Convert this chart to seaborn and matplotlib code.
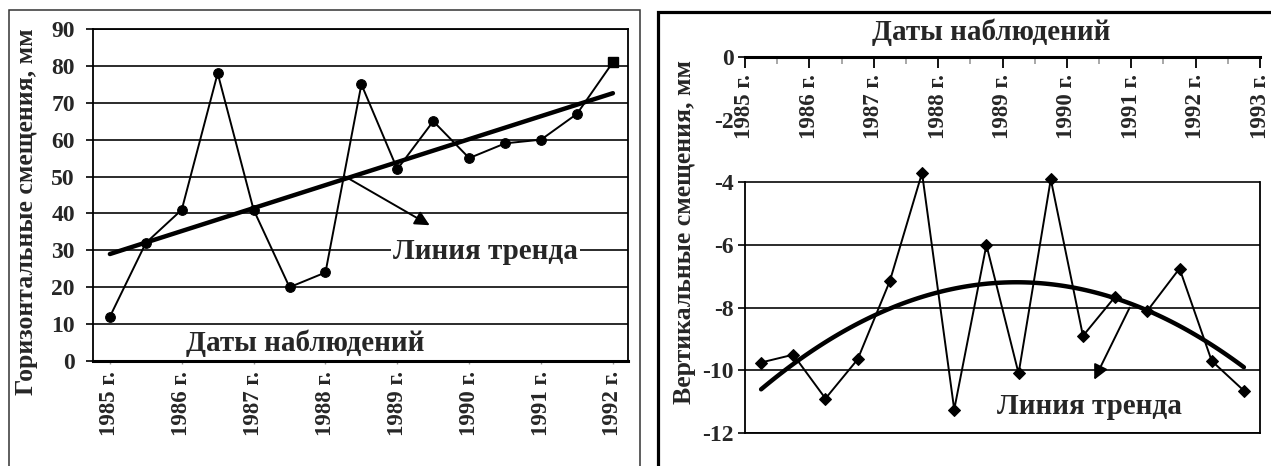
import numpy as np
import matplotlib
matplotlib.use("Agg")
import matplotlib.pyplot as plt
import seaborn as sns
from matplotlib.patches import Rectangle

# Horizontal displacements, two surveys per year (1985-1992)
h_years = ["1985 г.", "1986 г.", "1987 г.", "1988 г.", "1989 г.", "1990 г.", "1991 г.", "1992 г."]
h_values = [12, 32, 41, 78, 41, 20, 24, 75, 52, 65, 55, 59, 60, 67, 81]
h_yticks = [0, 10, 20, 30, 40, 50, 60, 70, 80, 90]

# Vertical displacements, two surveys per year (1985-1993)
v_years = ["1985 г.", "1986 г.", "1987 г.", "1988 г.", "1989 г.", "1990 г.",
           "1991 г.", "1992 г.", "1993 г."]
v_values = [-9.75, -9.5, -10.9, -9.65, -7.15, -3.7, -11.25, -6.0,
            -10.1, -3.9, -8.9, -7.65, -8.1, -6.75, -9.7, -10.65]
v_yticks = [-12, -10, -8, -6, -4, -2, 0]

x_title = "Даты наблюдений"
h_ylabel = "Горизонтальные смещения, мм"
v_ylabel = "Вертикальные смещения, мм"
trend_label = "Линия тренда"

sns.set_theme(style="white")
plt.rcParams["font.family"] = ["Liberation Serif", "DejaVu Serif"]
plt.rcParams["font.weight"] = "bold"

W, H = 1271, 466
fig = plt.figure(figsize=(W / 100, H / 100), dpi=100)
fig.patch.set_facecolor("white")

TICK_FS = 17
XTICK_FS = 16.5
TITLE_FS = 21
YLABEL_FS = 18.5
GRID_KW = dict(color="#1a1a1a", linewidth=1.3)

# ---------------- left panel: horizontal displacements ----------------
axL = fig.add_axes([93 / W, 1 - 361 / H, 535 / W, 332 / H])
xl = np.arange(len(h_values))
sns.lineplot(x=xl, y=h_values, ax=axL, color="black", linewidth=1.4,
             marker="o", markersize=7, markeredgecolor="black", zorder=3)
axL.plot(xl[-1:], h_values[-1:], marker="s", markersize=7.5, color="black",
         linestyle="none", zorder=4)

coef_l = np.polyfit(xl, h_values, 1)
xt_l = xl[[0, -1]]
sns.lineplot(x=xt_l, y=np.polyval(coef_l, xt_l), ax=axL, color="black",
             linewidth=3.2, zorder=3)

axL.set_xlim(-0.47, 14.42)
axL.set_ylim(0, 90)
axL.set_yticks(h_yticks)
axL.set_yticklabels([str(v) for v in h_yticks], fontsize=TICK_FS, fontweight="bold")
axL.set_xticks(xl[::2])
axL.set_xticklabels(h_years, rotation=90, fontsize=XTICK_FS, fontweight="bold", ha="center")
axL.tick_params(axis="y", direction="out", length=5, width=1.2, color="black", pad=8,
                left=True)
axL.tick_params(axis="x", direction="out", length=2, width=1, color="#999999", pad=5,
                bottom=True)
axL.grid(axis="y", **GRID_KW)
axL.grid(axis="x", visible=False)
axL.set_axisbelow(True)
for name, sp in axL.spines.items():
    sp.set_visible(True)
    sp.set_color("black")
    sp.set_linewidth(1.3)
axL.spines["bottom"].set_linewidth(2.2)

axL.set_xlabel(x_title, fontsize=TITLE_FS, fontweight="bold", va="center")
axL.xaxis.set_label_coords(0.397, 0.054)
axL.set_ylabel(h_ylabel, fontsize=YLABEL_FS, fontweight="bold", va="center", ha="center")
axL.yaxis.set_label_coords(-0.125, 0.449)

axL.text(10.45, 29.7, trend_label, fontsize=TITLE_FS, fontweight="bold",
         ha="center", va="center", zorder=5,
         bbox=dict(facecolor="white", edgecolor="none", pad=1.5))
axL.annotate("", xy=(8.9, 36.8), xytext=(6.55, 50),
             arrowprops=dict(arrowstyle="-|>", color="black", lw=1.4,
                             mutation_scale=22, shrinkA=0, shrinkB=0), zorder=5)

# ---------------- right panel: vertical displacements ----------------
axR = fig.add_axes([745 / W, 1 - 433 / H, 515 / W, 376 / H])
xr = np.arange(len(v_values)) + 0.5
sns.lineplot(x=xr, y=v_values, ax=axR, color="black", linewidth=1.4,
             marker="D", markersize=6.5, markeredgecolor="black", zorder=3)

coef_r = np.polyfit(xr, v_values, 2)
xt_r = np.linspace(xr[0], xr[-1], 120)
sns.lineplot(x=xt_r, y=np.polyval(coef_r, xt_r), ax=axR, color="black",
             linewidth=3.2, zorder=3)

axR.set_xlim(0, 16)
axR.set_ylim(-12, 0)
axR.set_yticks(v_yticks)
axR.set_yticklabels([str(v) for v in v_yticks], fontsize=TICK_FS, fontweight="bold")
axR.tick_params(axis="y", direction="out", length=5, width=1.2, color="black", pad=3,
                left=True)

axR.xaxis.tick_top()
axR.set_xticks(np.arange(0, 17, 2))
axR.set_xticks(np.arange(1, 16, 2), minor=True)
axR.set_xticklabels(v_years, rotation=90, fontsize=XTICK_FS, fontweight="bold", ha="center")
axR.tick_params(axis="x", which="both", direction="in", top=True, bottom=False,
                labeltop=True, labelbottom=False)
axR.tick_params(axis="x", which="major", length=8, width=1.3, color="black", pad=-12)
axR.tick_params(axis="x", which="minor", length=5, width=1.2, color="#999999")
for lab in axR.get_xticklabels():
    lab.set_verticalalignment("top")

axR.grid(axis="y", **GRID_KW)
axR.grid(axis="x", visible=False)
axR.set_axisbelow(True)
for tick, val in zip(axR.yaxis.get_major_ticks(), v_yticks):
    if val > -4:
        tick.gridline.set_visible(False)
    if val == -2:
        tick.tick1line.set_visible(False)

for name, sp in axR.spines.items():
    sp.set_visible(True)
    sp.set_color("black")
    sp.set_linewidth(1.3)
axR.spines["top"].set_linewidth(2.2)
axR.spines["left"].set_bounds(-12, -4)
axR.spines["right"].set_bounds(-12, -4)

axR.set_xlabel(x_title, fontsize=TITLE_FS, fontweight="bold", va="center")
axR.xaxis.set_label_position("top")
axR.xaxis.set_label_coords(0.478, 1.045)
axR.set_ylabel(v_ylabel, fontsize=YLABEL_FS, fontweight="bold", va="center", ha="center")
axR.yaxis.set_label_coords(-0.118, 0.535)

axR.text(10.7, -11.17, trend_label, fontsize=TITLE_FS, fontweight="bold",
         ha="center", va="center", zorder=5)
axR.annotate("", xy=(10.85, -10.3), xytext=(11.95, -8.0),
             arrowprops=dict(arrowstyle="-|>", color="black", lw=1.4,
                             mutation_scale=22, shrinkA=0, shrinkB=0), zorder=5)

# ---------------- panel frames ----------------
fig.add_artist(Rectangle((9 / W, -0.1), (640 - 9) / W, 1.1 - 10 / H,
                         transform=fig.transFigure, fill=False,
                         edgecolor="#333333", linewidth=1.1))
fig.add_artist(Rectangle((658 / W, -0.1), 0.6, 1.1 - 12 / H,
                         transform=fig.transFigure, fill=False,
                         edgecolor="black", linewidth=2.3))

fig.savefig("out.png", dpi=100, facecolor="white")
